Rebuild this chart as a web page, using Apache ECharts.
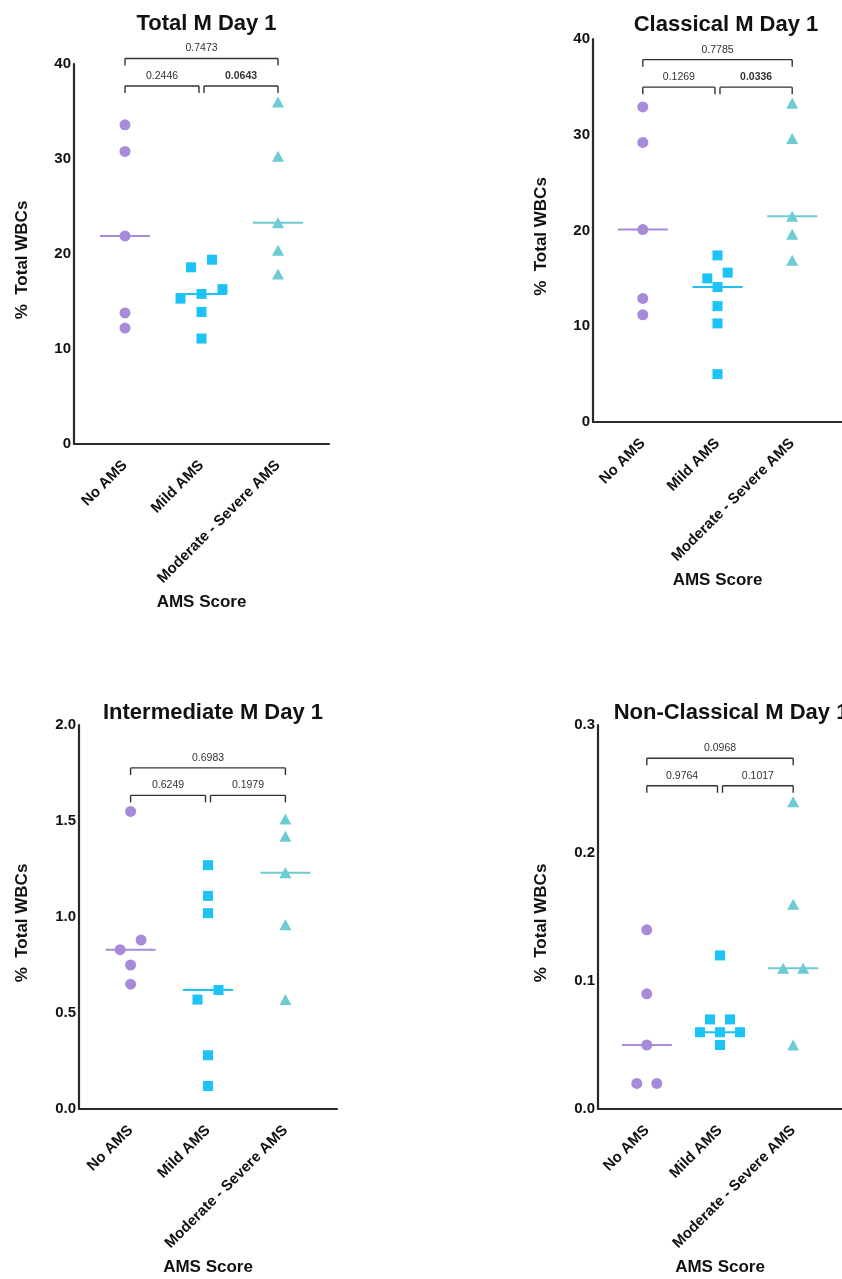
<!DOCTYPE html>
<html>
<head>
<meta charset="utf-8">
<script src="https://cdn.jsdelivr.net/npm/echarts@6/dist/echarts.min.js"></script>
<style>
html,body{margin:0;padding:0;background:#fff;}
#chart{width:842px;height:1279px;}
</style>
</head>
<body>
<div id="chart"></div>
<script>
// ---------- DATA ----------
const categories = ['No AMS', 'Mild AMS', 'Moderate - Severe AMS'];
const panelTitles = ['Total M Day 1', 'Classical M Day 1', 'Intermediate M Day 1', 'Non-Classical M Day 1'];
const yAxisTitle = '%  Total WBCs';
const xAxisTitle = 'AMS Score';

const totalNoAMS   = [33.6, 30.8, 21.9, 13.8, 12.2];
const totalMild    = [19.4, 18.6, 16.3, 15.8, 15.3, 13.9, 11.1];
const totalModSev  = [36.0, 30.3, 23.3, 20.4, 17.9];

const classicalNoAMS  = [32.9, 29.2, 20.1, 12.9, 11.2];
const classicalMild   = [17.4, 15.6, 15.0, 14.1, 12.1, 10.3, 5.0];
const classicalModSev = [33.3, 29.6, 21.5, 19.6, 16.9];

const interNoAMS  = [1.55, 0.88, 0.83, 0.75, 0.65];
const interMild   = [1.27, 1.11, 1.02, 0.62, 0.57, 0.28, 0.12];
const interModSev = [1.51, 1.42, 1.23, 0.96, 0.57];

const nonClassNoAMS  = [0.14, 0.09, 0.05, 0.02, 0.02];
const nonClassMild   = [0.12, 0.07, 0.07, 0.06, 0.06, 0.06, 0.05];
const nonClassModSev = [0.24, 0.16, 0.11, 0.11, 0.05];

// p-values: [No vs Mild, Mild vs Mod-Severe, No vs Mod-Severe]
const pTotal     = ['0.2446', '0.0643', '0.7473'];
const pClassical = ['0.1269', '0.0336', '0.7785'];
const pInter     = ['0.6249', '0.1979', '0.6983'];
const pNonClass  = ['0.9764', '0.1017', '0.0968'];

const yTicksTotal     = ['0', '10', '20', '30', '40'];
const yTicksClassical = ['0', '10', '20', '30', '40'];
const yTicksInter     = ['0.0', '0.5', '1.0', '1.5', '2.0'];
const yTicksNonClass  = ['0.0', '0.1', '0.2', '0.3'];

// ---------- LAYOUT / STYLE ----------
const FONT = 'Liberation Sans, Arial, Helvetica, sans-serif';
const groupColors = ['#A78BDA', '#1CC3F7', '#6DCBD3'];
const groupSymbols = ['circle', 'rect', 'triangle'];
const groupSizes = [11, 10, [12, 11]];
const AXIS_COLOR = '#2a2a2a';
const X_MIN = 1 / 3, X_MAX = 11 / 3;
const CLUSTER_PX = 11.5, SPREAD_PX = 21;
const BOLD_P_BELOW = 0.07;

const panels = [
  { title: panelTitles[0], groups: [totalNoAMS, totalMild, totalModSev], p: pTotal, ticks: yTicksTotal,
    grid: { left: 74, top: 64, width: 255, height: 380 }, titleTop: 8, nameGap: 43 },
  { title: panelTitles[1], groups: [classicalNoAMS, classicalMild, classicalModSev], p: pClassical, ticks: yTicksClassical,
    grid: { left: 593, top: 39, width: 256, height: 383 }, titleTop: 9, nameGap: 43 },
  { title: panelTitles[2], groups: [interNoAMS, interMild, interModSev], p: pInter, ticks: yTicksInter,
    grid: { left: 79, top: 725, width: 258, height: 384 }, titleTop: 697, nameGap: 48 },
  { title: panelTitles[3], groups: [nonClassNoAMS, nonClassMild, nonClassModSev], p: pNonClass, ticks: yTicksNonClass,
    grid: { left: 598, top: 725, width: 256, height: 384 }, titleTop: 697, nameGap: 48 }
];

function median(arr) {
  const s = arr.slice().sort((a, b) => a - b);
  const n = s.length;
  return n % 2 ? s[(n - 1) / 2] : (s[n / 2 - 1] + s[n / 2]) / 2;
}

// simple deterministic beeswarm: points within CLUSTER_PX vertically share a row
function swarmOffsets(values, pxPerY, pxPerX) {
  const order = values.map((v, i) => i).sort((a, b) => values[b] - values[a]);
  const offs = new Array(values.length).fill(0);
  let i = 0;
  while (i < order.length) {
    const start = values[order[i]];
    let j = i + 1;
    while (j < order.length && (start - values[order[j]]) * pxPerY < CLUSTER_PX) j++;
    const cl = order.slice(i, j).sort((a, b) => values[a] - values[b]);
    const n = cl.length;
    cl.forEach((k, m) => { offs[k] = (m - (n - 1) / 2) * SPREAD_PX / pxPerX; });
    i = j;
  }
  return offs;
}

const option = {
  backgroundColor: '#ffffff',
  animation: false,
  title: [],
  grid: [],
  xAxis: [],
  yAxis: [],
  series: []
};

panels.forEach((pn, pi) => {
  const yMax = parseFloat(pn.ticks[pn.ticks.length - 1]);
  const yStep = parseFloat(pn.ticks[1]);
  const pxPerY = pn.grid.height / yMax;
  const pxPerX = pn.grid.width / (X_MAX - X_MIN);

  option.grid.push(Object.assign({ containLabel: false }, pn.grid));
  option.title.push({
    text: pn.title,
    left: pn.grid.left + pn.grid.width / 2,
    top: pn.titleTop,
    textAlign: 'center',
    textStyle: { fontFamily: FONT, fontSize: 22, fontWeight: 'bold', color: '#111' }
  });
  option.xAxis.push({
    type: 'value', gridIndex: pi, min: X_MIN, max: X_MAX,
    name: xAxisTitle, nameLocation: 'middle', nameGap: 150,
    nameTextStyle: { fontFamily: FONT, fontSize: 17, fontWeight: 'bold', color: '#111' },
    axisLine: { show: true, onZero: false, lineStyle: { color: AXIS_COLOR, width: 2.2 } },
    axisTick: { show: false },
    splitLine: { show: false },
    axisLabel: {
      customValues: [1, 2, 3],
      rotate: 45, margin: 19,
      fontFamily: FONT, fontSize: 15, fontWeight: 'bold', color: '#111',
      formatter: v => categories[Math.round(v) - 1] || ''
    }
  });
  option.yAxis.push({
    type: 'value', gridIndex: pi, min: 0, max: yMax, interval: yStep,
    name: yAxisTitle, nameLocation: 'middle', nameGap: pn.nameGap,
    nameTextStyle: { fontFamily: FONT, fontSize: 17, fontWeight: 'bold', color: '#111', padding: [0, 12, 0, 0] },
    axisLine: { show: true, onZero: false, lineStyle: { color: AXIS_COLOR, width: 2.2 } },
    axisTick: { show: false },
    splitLine: { show: false },
    axisLabel: {
      margin: 3, fontFamily: FONT, fontSize: 15, fontWeight: 'bold', color: '#111',
      formatter: v => pn.ticks[Math.round(v / yStep)] ?? ''
    }
  });

  // medians
  const meds = pn.groups.map((g, gi) => [gi + 1, median(g), gi]);
  option.series.push({
    type: 'custom', xAxisIndex: pi, yAxisIndex: pi, clip: false, z: 1,
    data: meds,
    renderItem: (params, api) => {
      const p = api.coord([api.value(0), api.value(1)]);
      return {
        type: 'line',
        shape: { x1: p[0] - 25, y1: p[1], x2: p[0] + 25, y2: p[1] },
        style: { stroke: groupColors[api.value(2)], lineWidth: 2 }
      };
    }
  });

  // points
  pn.groups.forEach((g, gi) => {
    const offs = swarmOffsets(g, pxPerY, pxPerX);
    option.series.push({
      type: 'scatter', xAxisIndex: pi, yAxisIndex: pi, z: 3,
      symbol: groupSymbols[gi], symbolSize: groupSizes[gi],
      itemStyle: { color: groupColors[gi], opacity: 1 },
      data: g.map((v, k) => [gi + 1 + offs[k], v])
    });
  });

  // significance brackets
  const dataMax = Math.max(...pn.groups.flat());
  const comps = [[1, 2, 0], [2, 3, 0], [1, 3, 1]];
  option.series.push({
    type: 'custom', xAxisIndex: pi, yAxisIndex: pi, clip: false, z: 4,
    data: comps.map((c, ci) => [c[0], c[1], dataMax, c[2], ci]),
    renderItem: (params, api) => {
      const a = api.value(0), b = api.value(1), lvl = api.value(3), ci = api.value(4);
      const pa = api.coord([a, dataMax]);
      const pb = api.coord([b, dataMax]);
      let x1 = pa[0], x2 = pb[0];
      if (lvl === 0) { if (b === 2) x2 -= 2.5; if (a === 2) x1 += 2.5; }
      const y = pa[1] - 16 - lvl * 27.5;
      const txt = pn.p[ci];
      const bold = parseFloat(txt) < BOLD_P_BELOW;
      const st = { stroke: '#333', lineWidth: 1.4 };
      return {
        type: 'group',
        children: [
          { type: 'line', shape: { x1: x1, y1: y, x2: x2, y2: y }, style: st },
          { type: 'line', shape: { x1: x1, y1: y, x2: x1, y2: y + 7 }, style: st },
          { type: 'line', shape: { x1: x2, y1: y, x2: x2, y2: y + 7 }, style: st },
          { type: 'text', x: (x1 + x2) / 2, y: y - 10,
            style: { text: txt, fill: '#333', font: (bold ? 'bold ' : '') + '10.5px ' + FONT,
                     textAlign: 'center', textVerticalAlign: 'middle' } }
        ]
      };
    }
  });
});

const chart = echarts.init(document.getElementById('chart'), null, { renderer: 'canvas' });
chart.setOption(option);
</script>
</body>
</html>
